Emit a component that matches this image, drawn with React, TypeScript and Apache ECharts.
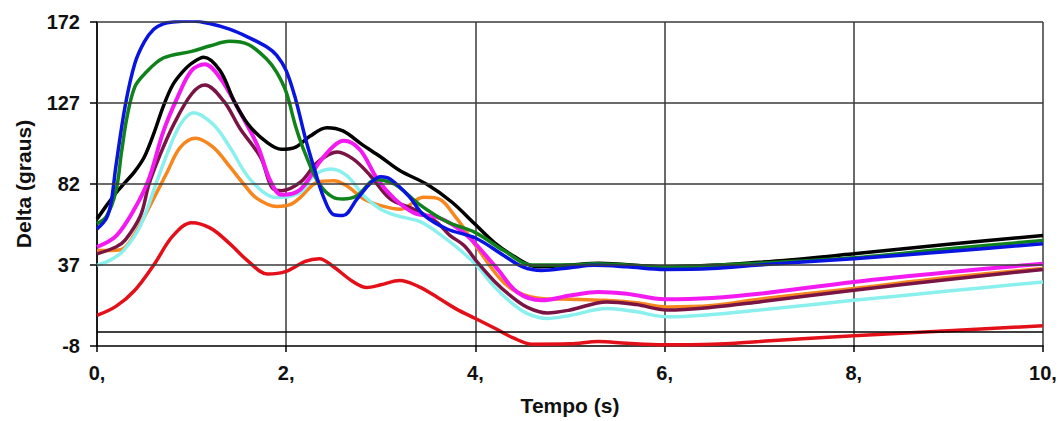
import React, { useEffect, useRef } from "react";
import * as echarts from "echarts";

// Time (s) / Delta (graus) readings per machine curve
const xTicks = [0, 2, 4, 6, 8, 10];
const yTicks = [-8, 37, 82, 127, 172];
const zeroLine = [0];

const red: [number, number][] = [
  [0, 9], [0.2, 14], [0.4, 23], [0.6, 37], [0.8, 53], [1.0, 60.5], [1.2, 57.5], [1.4, 49], [1.6, 39],
  [1.8, 32], [2.0, 33.5], [2.2, 39], [2.35, 40.5], [2.5, 36], [2.7, 28], [2.85, 24.5], [3.0, 26],
  [3.2, 28.4], [3.4, 25], [3.6, 19], [3.8, 12.5], [4.0, 7.3], [4.2, 2], [4.4, -3.5], [4.6, -7],
  [5.0, -6.8], [5.3, -5.5], [5.6, -6.5], [6.0, -7.3], [6.5, -7], [7, -5.5], [8, -2.3], [9, 0.5], [10, 3.2],
];
const orange: [number, number][] = [
  [0, 45], [0.25, 45.5], [0.39, 53.4], [0.56, 70], [0.74, 88.4], [0.88, 102.3], [1.04, 107.4],
  [1.23, 102.3], [1.41, 91.2], [1.55, 82], [1.69, 74], [1.9, 69.5], [2.04, 70.5], [2.15, 74.6],
  [2.33, 83], [2.5, 83.8], [2.64, 81], [2.82, 73.7], [3.0, 70], [3.21, 68], [3.45, 74.6], [3.6, 74],
  [3.8, 63], [4.0, 48], [4.26, 29.4], [4.44, 22], [4.72, 18.3], [5.0, 18], [5.36, 17.4], [5.7, 16],
  [6.03, 13.7], [6.5, 14.5], [7, 18], [8, 24], [9, 30], [10, 35],
];
const cyan: [number, number][] = [
  [0, 36.8], [0.15, 40], [0.28, 45], [0.46, 59], [0.63, 83], [0.74, 98.6], [0.88, 115], [1.02, 121.6],
  [1.23, 115], [1.41, 102], [1.62, 84.5], [1.9, 74.5], [2.15, 77.3], [2.29, 86.6], [2.47, 90.3],
  [2.64, 86.6], [2.82, 75.5], [3.0, 68], [3.17, 64.4], [3.42, 61], [3.6, 55], [3.8, 47], [4.0, 37.5],
  [4.2, 25], [4.37, 16.5], [4.55, 10], [4.76, 7.3], [5.0, 9], [5.39, 12.8], [5.7, 11], [6.03, 8.2],
  [6.5, 9.5], [7, 12], [8, 17.4], [9, 22.5], [10, 27.6],
];
const maroon: [number, number][] = [
  [0, 43.2], [0.2, 47], [0.3, 51], [0.46, 64.5], [0.55, 82], [0.67, 98.6], [0.81, 115], [1.0, 132],
  [1.14, 137], [1.34, 128], [1.51, 113], [1.73, 96.7], [1.85, 80], [1.95, 78.3], [2.15, 83],
  [2.33, 94], [2.54, 99.8], [2.71, 95.8], [2.89, 86.6], [3.1, 73.7], [3.35, 68], [3.59, 60.8],
  [3.73, 53.5], [3.88, 47.8], [4.02, 38.6], [4.2, 28], [4.37, 20], [4.55, 13.5], [4.76, 10.4],
  [5.0, 12], [5.39, 16.5], [5.7, 15], [6.03, 12], [6.5, 13.5], [7, 16.5], [8, 23], [9, 29], [10, 34.5],
];
const magenta: [number, number][] = [
  [0, 47], [0.2, 53], [0.4, 68.5], [0.55, 85], [0.7, 111], [0.85, 130], [1.0, 145], [1.14, 148.5],
  [1.3, 141], [1.5, 123], [1.7, 103], [1.83, 84], [1.95, 76], [2.15, 79], [2.35, 94], [2.5, 103],
  [2.61, 106], [2.78, 101], [2.96, 85], [3.14, 74], [3.35, 66], [3.6, 63.5], [3.77, 59], [3.95, 51.5],
  [4.23, 35], [4.44, 22], [4.7, 17.4], [5.0, 20], [5.3, 22], [5.6, 21], [6, 18], [6.5, 18.7], [7, 21],
  [8, 27.6], [9, 33], [10, 37.7],
];
const black: [number, number][] = [
  [0, 62.5], [0.1, 70], [0.2, 77], [0.3, 83], [0.4, 89], [0.5, 97], [0.6, 110], [0.7, 125], [0.8, 137],
  [0.9, 144], [1.0, 149], [1.13, 152.4], [1.3, 145], [1.45, 128], [1.6, 115], [1.8, 105], [1.95, 101.3],
  [2.1, 102.5], [2.25, 108.5], [2.43, 113.3], [2.6, 111.5], [2.8, 104], [3.0, 97], [3.2, 89.5],
  [3.5, 81.5], [3.75, 72], [4.0, 59.5], [4.2, 49.5], [4.45, 40.5], [4.65, 36], [5.0, 37], [5.3, 38],
  [6, 36], [7, 38.5], [8, 43.2], [9, 48.5], [10, 53.4],
];
const green: [number, number][] = [
  [0, 60], [0.1, 64], [0.2, 78], [0.26, 100], [0.32, 120], [0.4, 136], [0.5, 143], [0.7, 152],
  [1.0, 155.7], [1.2, 158.8], [1.4, 161.3], [1.6, 159.5], [1.8, 151], [1.9, 144], [2.0, 133],
  [2.1, 114], [2.2, 99], [2.35, 82], [2.5, 74.5], [2.6, 73.7], [2.75, 75.5], [2.95, 84.5], [3.1, 83],
  [3.2, 80], [3.4, 71], [3.7, 61], [4.0, 55], [4.3, 45], [4.6, 37], [5.0, 37], [5.25, 37.7], [5.6, 37],
  [6.0, 36], [7, 38], [8, 41], [9, 46], [10, 50.6],
];
const blue: [number, number][] = [
  [0, 57], [0.1, 63], [0.15, 72], [0.2, 92], [0.3, 126], [0.4, 149], [0.5, 161], [0.6, 168], [0.7, 171],
  [0.8, 172], [1.0, 172.5], [1.2, 171], [1.4, 168], [1.6, 163.5], [1.8, 158], [1.9, 153.5], [2.0, 145],
  [2.1, 129], [2.2, 108], [2.3, 90], [2.4, 74], [2.5, 65], [2.6, 64.5], [2.75, 73.7], [2.9, 83],
  [3.0, 86], [3.1, 84.7], [3.3, 75], [3.45, 65], [3.7, 57], [4.0, 52], [4.3, 42.3], [4.5, 36],
  [4.7, 34], [5.0, 35.5], [5.25, 36.8], [5.6, 36], [6.0, 34.5], [6.5, 35], [7, 37], [8, 40.5],
  [9, 44.5], [10, 48.8],
];

const curves = [
  { name: "red", data: red, color: "#E3101A", width: 3.5 },
  { name: "orange", data: orange, color: "#F7861E", width: 3.5 },
  { name: "cyan", data: cyan, color: "#8AF0EE", width: 3.5 },
  { name: "maroon", data: maroon, color: "#7A1445", width: 3.5 },
  { name: "magenta", data: magenta, color: "#F21AF0", width: 4 },
  { name: "black", data: black, color: "#000000", width: 3.5 },
  { name: "green", data: green, color: "#10821A", width: 3.5 },
  { name: "blue", data: blue, color: "#0A14E0", width: 3.5 },
];

const FONT = "Liberation Sans, Arial, sans-serif";

export default function App() {
  const ref = useRef<HTMLDivElement>(null);
  useEffect(() => {
    if (!ref.current) return;
    const chart = echarts.init(ref.current, null, { renderer: "svg" });
    const gridLine = { color: "#3a3a3a", width: 1.5, type: "solid" as const };
    chart.setOption({
      animation: false,
      backgroundColor: "#ffffff",
      grid: { left: 97, right: 19, top: 22, bottom: 73 },
      xAxis: {
        type: "value",
        min: 0,
        max: 10,
        interval: 2,
        name: "Tempo (s)",
        nameLocation: "middle",
        nameGap: 49,
        nameTextStyle: { fontFamily: FONT, fontWeight: "bold", fontSize: 21, color: "#111" },
        axisLine: { show: true, onZero: false, lineStyle: { color: "#000", width: 1.5 } },
        axisTick: { show: true, length: 6, lineStyle: { color: "#000", width: 1.5 } },
        axisLabel: {
          fontFamily: FONT,
          fontWeight: "bold",
          fontSize: 20,
          color: "#111",
          margin: 17,
          formatter: (v: number) => `${v},`,
          customValues: xTicks,
        },
        splitLine: { show: true, lineStyle: gridLine },
      },
      yAxis: {
        type: "value",
        min: -8,
        max: 172,
        name: "Delta (graus)",
        nameLocation: "middle",
        nameGap: 63,
        nameTextStyle: { fontFamily: FONT, fontWeight: "bold", fontSize: 21, color: "#111" },
        axisLine: { show: true, onZero: false, lineStyle: { color: "#000", width: 1.5 } },
        axisTick: { show: true, length: 7, lineStyle: { color: "#000", width: 1.5 }, customValues: yTicks },
        axisLabel: {
          fontFamily: FONT,
          fontWeight: "bold",
          fontSize: 20,
          color: "#111",
          margin: 17,
          customValues: yTicks,
        },
        splitLine: { show: false },
      },
      series: [
        {
          type: "line",
          name: "grid",
          data: [],
          z: 1,
          silent: true,
          markLine: {
            silent: true,
            symbol: "none",
            label: { show: false },
            lineStyle: gridLine,
            data: yTicks.slice(1).map((v) => ({ yAxis: v })),
          },
        },
        {
          type: "line",
          name: "zero",
          data: [],
          z: 1,
          silent: true,
          markLine: {
            silent: true,
            symbol: "none",
            label: { show: false },
            lineStyle: { color: "#000", width: 1.5, type: "solid" },
            data: zeroLine.map((v) => ({ yAxis: v })),
          },
        },
        ...curves.map((c) => ({
          type: "line",
          name: c.name,
          data: c.data,
          smooth: 0.35,
          showSymbol: false,
          z: 3,
          lineStyle: { color: c.color, width: c.width },
          itemStyle: { color: c.color },
        })),
      ],
    });
    return () => chart.dispose();
  }, []);
  return (
    <div
      ref={ref}
      style={{ position: "fixed", left: 0, top: 0, width: 1062, height: 421 }}
    />
  );
}
